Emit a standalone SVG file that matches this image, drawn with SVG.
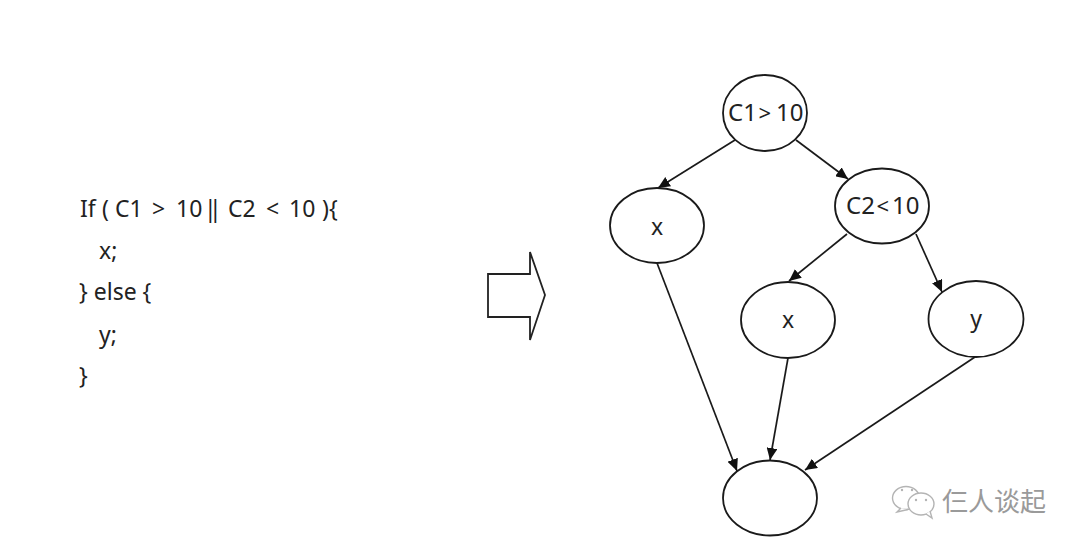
<svg xmlns="http://www.w3.org/2000/svg" width="1080" height="548" viewBox="0 0 1080 548">
<style>
.n{fill:#fff;stroke:#1a1a1a;stroke-width:1.8}
.t{font-family:"Noto Sans","Open Sans","Liberation Sans",sans-serif;fill:#222;font-size:23px}
.c{text-anchor:middle}
.e{fill:none;stroke:#1a1a1a;stroke-width:1.7;marker-end:url(#a)}
.w{fill:#fff;stroke:#b4b4b4;stroke-width:1.4}
.d{fill:#b4b4b4}
</style>
<defs>
<marker id="a" markerUnits="userSpaceOnUse" markerWidth="13" markerHeight="11" refX="12" refY="5.500" orient="auto"><path d="M0 0L12 5.500L0 11z" fill="#111"/></marker>
</defs>
<rect width="1080" height="548" fill="#fff"/>
<g id="code" class="t">
<text y="217"><tspan x="80">If</tspan><tspan x="102">(</tspan><tspan x="115">C1</tspan><tspan x="152">&gt;</tspan><tspan x="176">10</tspan><tspan x="204 209">||</tspan><tspan x="228">C2</tspan><tspan x="266">&lt;</tspan><tspan x="289">10</tspan><tspan x="322">){</tspan></text>
<text x="99" y="259">x;</text>
<text x="79" y="300">} else {</text>
<text x="99" y="343">y;</text>
<text x="79" y="384">}</text>
</g>
<g id="arrow"><path d="M488 274H530V252L545 295L530 340V317H488Z" fill="#fff" stroke="#222" stroke-width="1.8"/></g>
<g id="connectors">
<path class="e" d="M735 140L658 188"/>
<path class="e" d="M796 140L848 179"/>
<path class="e" d="M847 234L789 281"/>
<path class="e" d="M916 234L942 292"/>
<path class="e" d="M657 263L737 471"/>
<path class="e" d="M788 358L770 460"/>
<path class="e" d="M975 357L805 470"/>
</g>
<g id="n1"><ellipse class="n" cx="765" cy="113" rx="42" ry="38"/><text class="t" y="121" style="font-size:24px"><tspan x="728">C1</tspan><tspan x="758.500" style="font-size:22px">&gt;</tspan><tspan x="776">10</tspan></text></g>
<g id="n2"><ellipse class="n" cx="657" cy="225.500" rx="47" ry="37.500"/><text class="t c" x="657" y="235">x</text></g>
<g id="n3"><ellipse class="n" cx="882" cy="206" rx="47" ry="37.500"/><text class="t" y="214" style="font-size:24px"><tspan x="846">C2</tspan><tspan x="876.500" style="font-size:22px">&lt;</tspan><tspan x="892">10</tspan></text></g>
<g id="n4"><ellipse class="n" cx="788" cy="320" rx="47" ry="38"/><text class="t c" x="788" y="328">x</text></g>
<g id="n5"><ellipse class="n" cx="976" cy="319" rx="47.500" ry="38"/><text class="t c" x="976" y="327">y</text></g>
<g id="n6"><ellipse class="n" cx="770" cy="498" rx="47" ry="37.500"/></g>
<g id="watermark">
<ellipse class="w" cx="906" cy="498" rx="13.500" ry="11.500"/>
<path class="w" d="M901 508L897 512L908 509.500"/>
<ellipse class="w" cx="921" cy="504" rx="13" ry="11"/>
<path class="w" d="M926 514L932 518L930 511"/>
<circle class="d" cx="902" cy="490" r="1.200"/><circle class="d" cx="912" cy="490" r="1.200"/>
<circle class="d" cx="916" cy="500" r="1.200"/><circle class="d" cx="926" cy="500" r="1.200"/>
<text x="942" y="511" font-family="'Noto Sans CJK SC','Noto Sans',sans-serif" font-size="26" fill="#9a9a9a">仨人谈起</text>
</g>
</svg>
